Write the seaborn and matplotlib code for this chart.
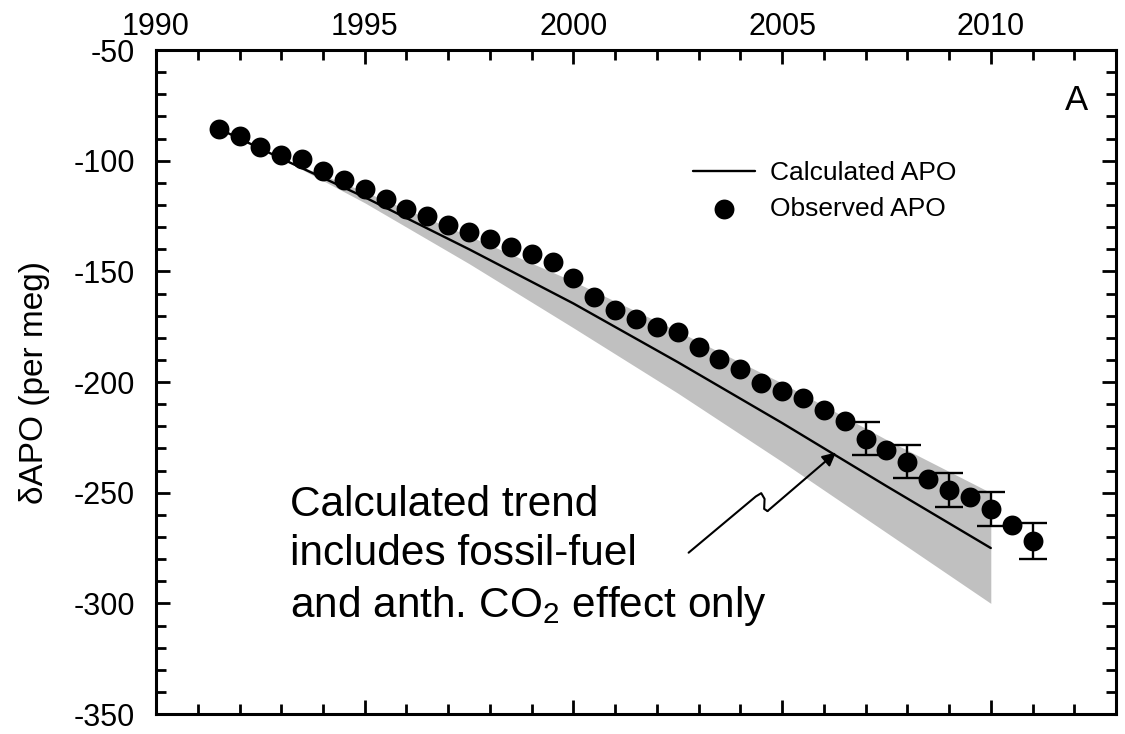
import matplotlib
matplotlib.use("Agg")
import matplotlib.pyplot as plt
from matplotlib.ticker import MultipleLocator
import seaborn as sns
import pandas as pd

# ---- data ----
obs_year = [1991.5, 1992.0, 1992.5, 1993.0, 1993.5, 1994.0, 1994.5, 1995.0, 1995.5, 1996.0,
            1996.5, 1997.0, 1997.5, 1998.0, 1998.5, 1999.0, 1999.5, 2000.0, 2000.5, 2001.0,
            2001.5, 2002.0, 2002.5, 2003.0, 2003.5, 2004.0, 2004.5, 2005.0, 2005.5, 2006.0,
            2006.5, 2007.0, 2007.5, 2008.0, 2008.5, 2009.0, 2009.5, 2010.0, 2010.5, 2011.0]
obs_apo = [-85.7, -88.7, -93.6, -97.3, -99.2, -104.5, -108.8, -112.6, -117.5, -122.0,
           -125.0, -129.0, -132.4, -135.3, -139.1, -142.3, -145.6, -152.8, -161.6, -167.3,
           -171.6, -175.0, -177.3, -184.0, -189.6, -194.2, -200.4, -203.9, -207.2, -212.7,
           -217.6, -225.6, -230.6, -236.0, -243.8, -248.6, -252.0, -257.3, -264.7, -271.7]

err_year = [2007.0, 2008.0, 2009.0, 2010.0, 2011.0]
err_apo = [-225.6, -236.0, -248.6, -257.3, -271.7]
err_size = [7.4, 7.5, 7.7, 7.8, 8.1]

calc_year = [1991.5, 1993.0, 1995.0, 1997.5, 2000.0, 2002.5, 2005.0, 2007.5, 2010.0]
calc_apo = [-85.5, -99.0, -116.5, -140.0, -164.5, -191.0, -218.5, -247.0, -275.0]

band_year = [1993.0, 1995.0, 1997.5, 2000.0, 2002.5, 2005.0, 2007.5, 2010.0]
band_upper = [-99.0, -114.0, -134.0, -154.5, -177.0, -200.5, -226.0, -250.0]
band_lower = [-99.0, -119.0, -146.5, -175.5, -205.0, -236.0, -268.0, -300.0]

x_major = [1990, 1995, 2000, 2005, 2010]
y_major = [-350, -300, -250, -200, -150, -100, -50]

# ---- styling ----
sns.set_style("ticks")
plt.rcParams['font.family'] = ['Liberation Sans', 'DejaVu Sans']
plt.rcParams['mathtext.fontset'] = 'custom'
plt.rcParams['mathtext.rm'] = 'Liberation Sans'
plt.rcParams['mathtext.it'] = 'Liberation Sans'
plt.rcParams['axes.unicode_minus'] = False
for key in ['text.color', 'axes.labelcolor', 'xtick.color', 'ytick.color', 'axes.edgecolor']:
    plt.rcParams[key] = 'black'

fig = plt.figure(figsize=(11.25, 7.34), dpi=100)
ax = fig.add_axes([0.1387, 0.0272, 0.8533, 0.9046])

obs_df = pd.DataFrame({"year": obs_year, "apo": obs_apo})
calc_df = pd.DataFrame({"year": calc_year, "apo": calc_apo})

ax.fill_between(band_year, band_lower, band_upper, color="#c0c0c0", lw=0, zorder=1)
sns.lineplot(data=calc_df, x="year", y="apo", ax=ax, color="black", lw=1.7,
             label="Calculated APO", zorder=2)
ax.errorbar(err_year, err_apo, yerr=err_size, fmt="none", ecolor="black",
            elinewidth=1.7, capsize=10, capthick=1.7, zorder=3)
sns.scatterplot(data=obs_df, x="year", y="apo", ax=ax, color="black", s=205,
                edgecolor="black", linewidth=0, label="Observed APO", zorder=4)

ax.set_xlim(1990, 2013)
ax.set_ylim(-350, -50)
ax.set_xticks(x_major)
ax.set_yticks(y_major)
ax.xaxis.set_minor_locator(MultipleLocator(1))
ax.yaxis.set_minor_locator(MultipleLocator(10))

ax.tick_params(which="both", direction="in", top=True, bottom=True, left=True, right=True,
               labeltop=True, labelbottom=False, labelleft=True, labelright=False,
               width=2, colors="black")
ax.tick_params(which="major", length=10)
ax.tick_params(which="minor", length=7)
ax.tick_params(axis="x", which="major", labelsize=22, pad=6)
ax.tick_params(axis="y", which="major", labelsize=22, pad=15)

for sp in ax.spines.values():
    sp.set_linewidth(2.2)
    sp.set_color("black")
    sp.set_visible(True)

ax.set_xlabel("")
ax.set_ylabel("δAPO (per meg)", fontsize=24)
ax.yaxis.set_label_coords(-0.110, 0.5)

leg = ax.legend(loc="upper left", bbox_to_anchor=(0.559, 0.8325), frameon=False,
                fontsize=19, handlelength=2.35, handletextpad=0.57, labelspacing=0.44,
                borderpad=0, borderaxespad=0, markerscale=1.0)
for t in leg.get_texts():
    t.set_color("black")

ax.text(2012.05, -72.6, "A", fontsize=25, ha="center", va="center")

ax.text(1993.2, -246.3, "Calculated trend\nincludes fossil-fuel\nand anth. CO$_2$ effect only",
        fontsize=30.5, ha="left", va="top", linespacing=1.3)

# wiggly arrow
wig_x = [2002.76, 2004.37, 2004.50, 2004.58, 2004.57, 2004.65]
wig_y = [-277.1, -251.7, -250.2, -252.8, -257.3, -258.3]
ax.plot(wig_x, wig_y, color="black", lw=1.5, zorder=5)
ax.annotate("", xy=(2006.29, -231.8), xytext=(2004.65, -258.3),
            arrowprops=dict(arrowstyle="-|>", color="black", lw=1.5,
                            mutation_scale=20, shrinkA=0, shrinkB=0), zorder=5)

fig.savefig("out.png", dpi=100)
